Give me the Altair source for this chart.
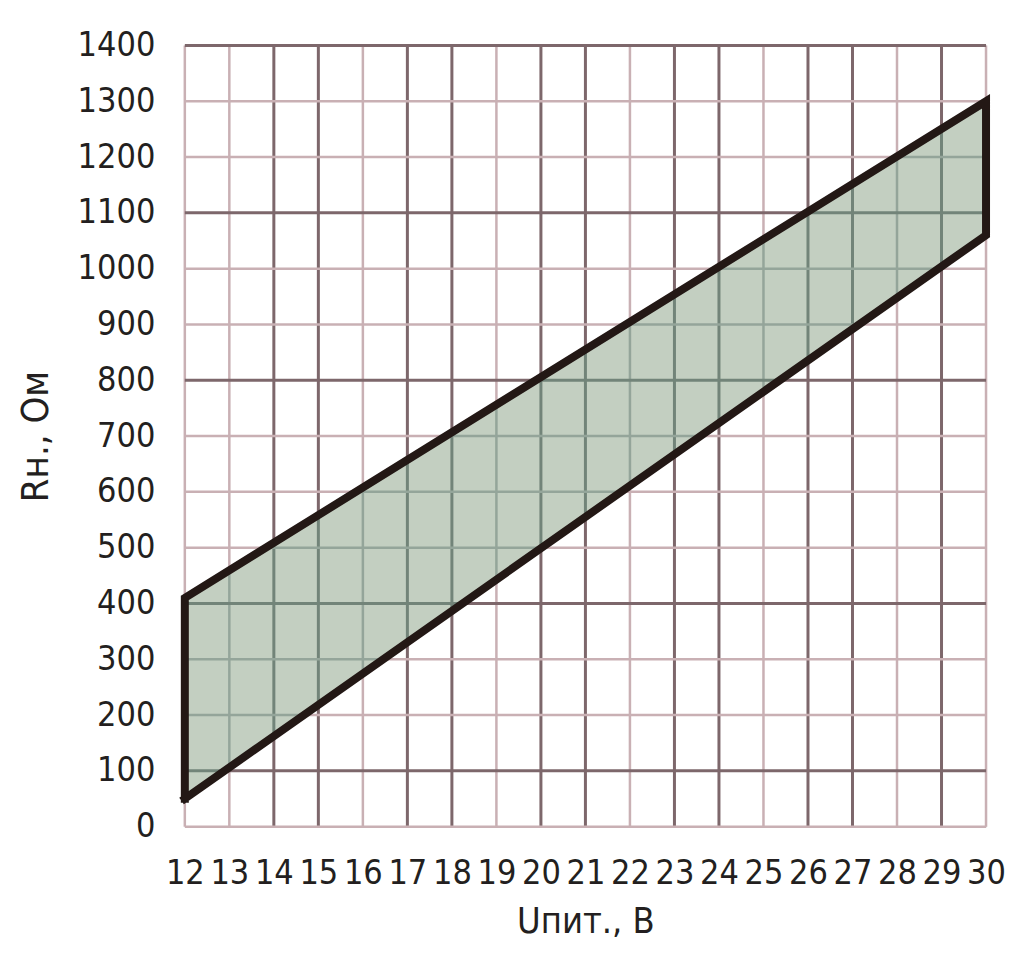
import altair as alt
import pandas as pd

# Boundary of the permitted region (U supply, V -> R load, Ohm)
u_edges = [12, 30]
r_lower = [50, 1060]
r_upper = [410, 1300]

x_ticks = list(range(12, 31))
y_ticks = list(range(0, 1401, 100))
x_dark = [14, 15, 17, 18, 20, 21, 23, 24, 26, 27, 29]
y_dark = [100, 400, 800, 1100, 1400]

FONT = "DejaVu Sans Condensed, DejaVu Sans, sans-serif"
TXT = "#231f20"
GRID_DARK = "#7d676b"
GRID_LIGHT = "#c9b0b4"
IN_DARK = "#728479"
IN_LIGHT = "#94a59a"
FILL = "#c3cfc1"


def lerp(xs, ys, x):
    return ys[0] + (ys[1] - ys[0]) * (x - xs[0]) / (xs[1] - xs[0])


def inv(xs, ys, y):
    return xs[0] + (xs[1] - xs[0]) * (y - ys[0]) / (ys[1] - ys[0])


# grid tables
vrows = [{"x": x, "y0": 0, "y1": 1400, "dark": x in x_dark} for x in x_ticks]
hrows = [{"y": y, "x0": 12, "x1": 30, "dark": y in y_dark} for y in y_ticks]
vgrid = pd.DataFrame(vrows)
hgrid = pd.DataFrame(hrows)

# grid segments inside the band
vin = []
for x in x_ticks:
    vin.append({"x": x, "y0": lerp(u_edges, r_lower, x), "y1": lerp(u_edges, r_upper, x),
                "dark": x in x_dark})
hin = []
for y in y_ticks:
    a = max(u_edges[0], inv(u_edges, r_upper, y))
    b = min(u_edges[1], inv(u_edges, r_lower, y))
    if b > a:
        hin.append({"y": y, "x0": a, "x1": b, "dark": y in y_dark})
vin = pd.DataFrame(vin)
hin = pd.DataFrame(hin)

band = pd.DataFrame({"u": u_edges, "lo": r_lower, "hi": r_upper})
outline = pd.DataFrame({
    "u": [u_edges[0], u_edges[0], u_edges[1], u_edges[1], u_edges[0]],
    "r": [r_lower[0], r_upper[0], r_upper[1], r_lower[1], r_lower[0]],
    "o": [0, 1, 2, 3, 4],
})

xs = alt.Scale(domain=[12, 30], nice=False, zero=False)
ys = alt.Scale(domain=[0, 1400], nice=False, zero=False)

xaxis = alt.Axis(values=x_ticks, format="d", grid=False, domain=False, ticks=False, tickSize=0,
                 labelFont=FONT, labelFontSize=34, labelColor=TXT, labelPadding=30,
                 labelFlush=False, labelOverlap=False,
                 title="Uпит., В", titleFont=FONT, titleFontSize=36, titleFontWeight="normal",
                 titleColor=TXT, titlePadding=14)
yaxis = alt.Axis(values=y_ticks, format="d", grid=False, domain=False, ticks=False, tickSize=0,
                 labelFont=FONT, labelFontSize=34, labelColor=TXT, labelPadding=30,
                 labelFlush=False, labelOverlap=False,
                 title="Rн., Ом", titleFont=FONT, titleFontSize=38, titleFontWeight="normal",
                 titleColor=TXT, titlePadding=22)

col_out = alt.condition("datum.dark", alt.value(GRID_DARK), alt.value(GRID_LIGHT))
w_out = alt.condition("datum.dark", alt.value(3), alt.value(2.5))
col_in = alt.condition("datum.dark", alt.value(IN_DARK), alt.value(IN_LIGHT))

base_axes = alt.Chart(band).mark_point(opacity=0).encode(
    x=alt.X("u:Q", scale=xs, axis=xaxis),
    y=alt.Y("lo:Q", scale=ys, axis=yaxis),
)

vg = alt.Chart(vgrid).mark_rule().encode(
    x=alt.X("x:Q", scale=xs), y=alt.Y("y0:Q", scale=ys), y2="y1:Q",
    color=col_out, strokeWidth=w_out)
hg = alt.Chart(hgrid).mark_rule().encode(
    y=alt.Y("y:Q", scale=ys), x=alt.X("x0:Q", scale=xs), x2="x1:Q",
    color=col_out, strokeWidth=w_out)

area = alt.Chart(band).mark_area(color=FILL, opacity=1).encode(
    x=alt.X("u:Q", scale=xs), y=alt.Y("lo:Q", scale=ys), y2="hi:Q")

vgi = alt.Chart(vin).mark_rule().encode(
    x=alt.X("x:Q", scale=xs), y=alt.Y("y0:Q", scale=ys), y2="y1:Q",
    color=col_in, strokeWidth=w_out)
hgi = alt.Chart(hin).mark_rule().encode(
    y=alt.Y("y:Q", scale=ys), x=alt.X("x0:Q", scale=xs), x2="x1:Q",
    color=col_in, strokeWidth=w_out)

line = alt.Chart(outline).mark_line(color="#231815", strokeWidth=8, strokeJoin="miter",
                                    strokeCap="square").encode(
    x=alt.X("u:Q", scale=xs), y=alt.Y("r:Q", scale=ys), order="o:Q")

chart = alt.layer(base_axes, vg, hg, area, vgi, hgi, line).properties(
    width=802, height=782,
    autosize=alt.AutoSizeParams(type="none"),
    padding={"left": 177, "top": 37, "right": 30, "bottom": 130},
).configure_view(stroke=None).configure(background="white")

chart.save("out.html", embed_options={"renderer": "svg", "actions": False})
